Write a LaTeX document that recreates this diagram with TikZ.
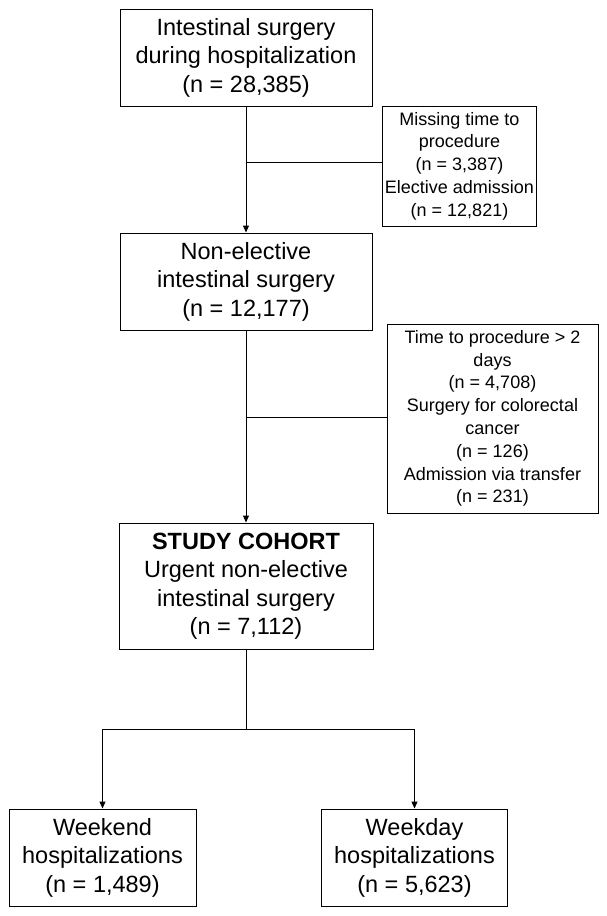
\documentclass[tikz,border=0pt]{standalone}
\usepackage{fontspec}
\setmainfont{Liberation Sans}
\usetikzlibrary{arrows.meta}
\begin{document}
\begin{tikzpicture}[x=1pt,y=1pt]
\tikzstyle{block} = [rectangle, draw=black, line width=1pt, align=center, inner sep=2pt, font=\fontsize{23.5}{28.5}\selectfont]
\tikzstyle{note} = [rectangle, draw=black, line width=1pt, align=center, inner sep=2pt, font=\fontsize{18}{22.8}\selectfont]
\tikzstyle{arrow} = [line width=1pt,->,>={Triangle[length=7pt,width=6pt]}]
\tikzstyle{link} = [line width=1pt]
%
\useasboundingbox (0,0) rectangle (607,-916);
\node (surgery)  [block, minimum width=252pt, minimum height=97pt] at (246,-57.5)
  {Intestinal surgery\\during hospitalization\\(n = 28,385)};
\node (nonelect) [block, minimum width=252pt, minimum height=97pt, below of=surgery, node distance=224pt]
  {Non-elective\\intestinal surgery\\(n = 12,177)};
\node (cohort)   [block, minimum width=254pt, minimum height=126pt, below of=nonelect, node distance=304.5pt]
  {\textbf{STUDY COHORT}\\Urgent non-elective\\intestinal surgery\\(n = 7,112)};
\node (weekend)  [block, minimum width=187pt, minimum height=97pt, below of=cohort, node distance=271.5pt, xshift=-143.5pt]
  {Weekend\\hospitalizations\\(n = 1,489)};
\node (weekday)  [block, minimum width=186pt, minimum height=97pt, below of=cohort, node distance=271.5pt, xshift=168.5pt]
  {Weekday\\hospitalizations\\(n = 5,623)};
\node (excl1)    [note, minimum width=151pt, minimum height=120pt, right of=surgery, node distance=213.5pt, yshift=-108.5pt]
  {Missing time to\\procedure\\(n = 3,387)\\Elective admission\\(n = 12,821)};
\node (excl2)    [note, minimum width=211pt, minimum height=189pt, right of=nonelect, node distance=246.5pt, yshift=-137pt]
  {Time to procedure > 2\\days\\(n = 4,708)\\Surgery for colorectal\\cancer\\(n = 126)\\Admission via transfer\\(n = 231)};
\coordinate (split) at ([yshift=-80pt]cohort.south);
%
\draw [arrow] (surgery)  -- (nonelect);
\draw [arrow] (nonelect) -- (cohort);
\draw [link]  ([yshift=4pt]excl1.west) -- ([yshift=4pt]excl1.west -| surgery.south);
\draw [link]  ([yshift=1.5pt]excl2.west) -- ([yshift=1.5pt]excl2.west -| nonelect.south);
\draw [link]  (cohort.south) -- (split);
\draw [arrow] (split)    -| (weekend);
\draw [arrow] (split)    -| (weekday);
\end{tikzpicture}
\end{document}
